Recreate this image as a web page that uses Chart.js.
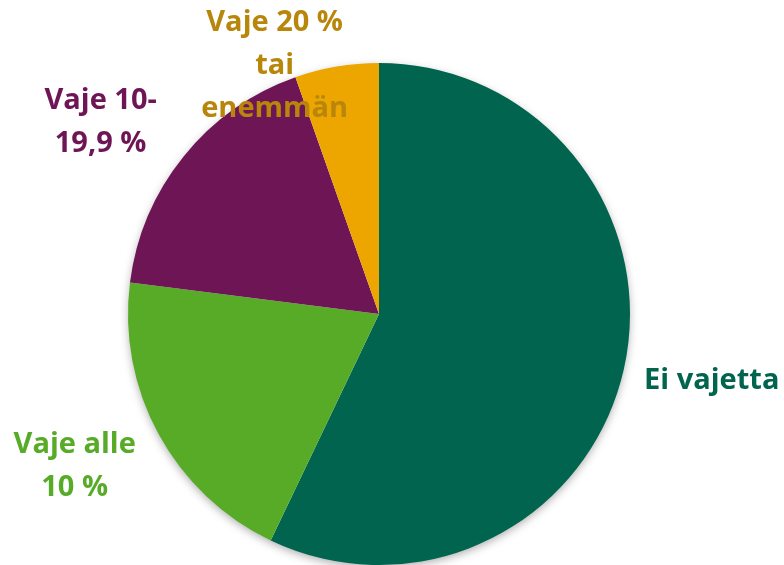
<!DOCTYPE html>
<html>
<head>
<meta charset="utf-8">
<script src="https://cdn.jsdelivr.net/npm/chart.js@4"></script>
<style>
  html, body { margin: 0; padding: 0; background: #fff; }
  #wrap { width: 784px; height: 565px; }
</style>
</head>
<body>
<div id="wrap"><canvas id="pie_chart" width="784" height="565"></canvas></div>
<script>
//
// DATA
//
const categories = ["Ei vajetta", "Vaje alle 10 %", "Vaje 10-19,9 %", "Vaje 20 % tai enemmän"];
const shares = [57.1, 19.9, 17.6, 5.4];
// how each label wraps, like in the original
const label_lines = [
    ["Ei vajetta"],
    ["Vaje alle", "10 %"],
    ["Vaje 10-", "19,9 %"],
    ["Vaje 20 %", "tai", "enemmän"]
];

const slice_colors = ["#00644e", "#57ab27", "#6e1556", "#eda600"];
const label_colors = ["#00644e", "#57ab27", "#6e1556", "#b8860b"];
// label nudges (px) from the slice's outer edge midpoint
const label_shift = [[88, 11], [-84, 32], [-83, -34], [-62, -1]];

//
// PLUGINS
//
const pie_shadow = {
    id: "pie_shadow",
    beforeDatasetsDraw(chart) {
        const arc = chart.getDatasetMeta(0).data[0];
        if (!arc) return;
        const ctx = chart.ctx;
        ctx.save();
        ctx.shadowColor = "rgba(0,0,0,0.35)";
        ctx.shadowBlur = 10;
        ctx.shadowOffsetY = 3;
        ctx.fillStyle = "#ffffff";
        ctx.beginPath();
        ctx.arc(arc.x, arc.y, arc.outerRadius - 1, 0, Math.PI * 2);
        ctx.fill();
        ctx.restore();
    }
};

const outside_labels = {
    id: "outside_labels",
    afterDatasetsDraw(chart) {
        const ctx = chart.ctx;
        const meta = chart.getDatasetMeta(0);
        ctx.save();
        ctx.font = "bold 29px 'Open Sans'";
        ctx.textAlign = "center";
        ctx.textBaseline = "middle";
        const line_h = 43;
        meta.data.forEach((arc, i) => {
            const mid = (arc.startAngle + arc.endAngle) / 2;
            const cx = arc.x + Math.cos(mid) * arc.outerRadius + label_shift[i][0];
            const cy = arc.y + Math.sin(mid) * arc.outerRadius + label_shift[i][1];
            const lines = label_lines[i];
            const top = cy - (lines.length - 1) * line_h / 2;
            ctx.fillStyle = label_colors[i];
            lines.forEach((t, k) => ctx.fillText(t, cx, top + k * line_h));
        });
        ctx.restore();
    }
};

//
// CHART
//
new Chart(document.getElementById("pie_chart"), {
    type: "pie",
    data: {
        labels: categories,
        datasets: [{
            data: shares,
            backgroundColor: slice_colors,
            borderWidth: 0
        }]
    },
    options: {
        responsive: false,
        animation: false,
        layout: { padding: { top: 63, left: 128, right: 154, bottom: 0 } },
        plugins: {
            legend: { display: false },
            tooltip: { enabled: false }
        }
    },
    plugins: [pie_shadow, outside_labels]
});
</script>
</body>
</html>
